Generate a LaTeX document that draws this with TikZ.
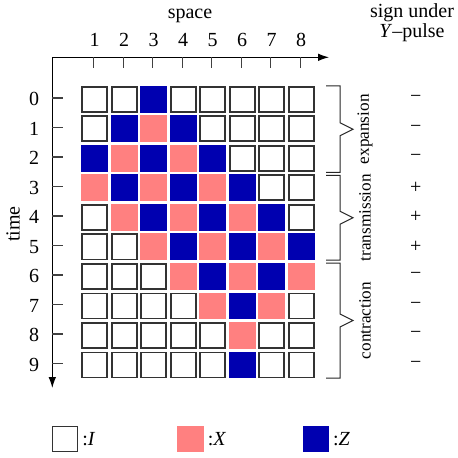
\documentclass[tikz,border=0pt]{standalone}
\usepackage{fontspec}
\setmainfont{Liberation Serif}
\usetikzlibrary{arrows.meta,positioning}
\definecolor{pauliX}{RGB}{255,128,128}
\definecolor{pauliZ}{RGB}{0,0,176}
\tikzset{
	cellI/.style={draw=black!80,line width=0.8pt,fill=white,minimum size=12.5pt,inner sep=0pt},
	cellX/.style={fill=pauliX,minimum size=13.3pt,inner sep=0pt},
	cellZ/.style={fill=pauliZ,minimum size=13.3pt,inner sep=0pt},
	tick/.style={draw=black!75,line width=0.6pt},
	bracket/.style={draw=black!85,line width=0.5pt},
	phase/.style={rotate=90,font=\fontsize{8.6}{10}\selectfont},
}
\newcommand{\phasebrace}[4]{%
	\draw[bracket] (326,#1) -- (340,#1) -- (340,{(#1+#2)/2-6.5}) -- (353,{(#1+#2)/2})
		-- (340,{(#1+#2)/2+6.5}) -- (340,#2) -- (326,#2);
	\node[phase] (#3) at (365,{(#1+#2)/2}) {#4};}

\begin{document}
\begin{tikzpicture}[x=0.5pt,y=-0.5pt,font=\fontsize{10}{10}\selectfont,
		>={Latex[length=5.5pt,width=3.8pt]}]
		\useasboundingbox (0,0) rectangle (458,458);
		%
		\node (space) at (190,15.5) {space};
		\node[rotate=90] (time) at (13,224) {time};
		\node[align=center] (pulse) at (412,22.5) {sign under\\\textit{Y}--pulse};
		%
		\draw[->,line width=0.5pt] (52.3,57.3) -- (329,57.3);
		\draw[->,line width=0.5pt] (52.3,57.3) -- (52.3,388);
		\foreach \c in {1,...,8} {
			\node (col\c) at ({65.2+29.5*\c},40) {\c};
			\draw[tick] ({64.2+29.5*\c},57.3) -- ++(0,10.7);
		}
		\foreach \r in {0,...,9} {
			\node (row\r) at (34,{99.3+29.5*\r}) {\r};
			\draw[tick] (52.3,{98+29.5*\r}) -- ++(10.7,0);
		}
		%
		\foreach \states [count=\r from 0] in {
			{I,I,Z,I,I,I,I,I},{I,Z,X,Z,I,I,I,I},{Z,X,Z,X,Z,I,I,I},
			{X,Z,X,Z,X,Z,I,I},{I,X,Z,X,Z,X,Z,I},{I,I,X,Z,X,Z,X,Z},
			{I,I,I,X,Z,X,Z,X},{I,I,I,I,X,Z,X,I},{I,I,I,I,I,X,I,I},
			{I,I,I,I,I,Z,I,I}} {
			\foreach \s [count=\c] in \states
				\node[cell\s] (c\r-\c) at ({65.2+29.5*\c},{99.3+29.5*\r}) {};
		}
		%
		\phasebrace{86}{172.5}{expansion}{expansion}
		\phasebrace{175.5}{260}{transmission}{transmission}
		\phasebrace{263}{378}{contraction}{contraction}
		\foreach \r/\sg in {0/−,1/−,2/−,3/+,4/+,5/+,6/−,7/−,8/−,9/−}
			\node (sign\r) at (415.7,{99.3+29.5*\r}) {\sg};
		%
		\node[cellI] (legI) at (65,439) {};
		\node[cellX] (legX) at (190.7,439) {};
		\node[cellZ] (legZ) at (316,439) {};
		\node[right=1.8pt of legI,inner sep=0pt] (labI) {:\textit{I}};
		\node[right=1.5pt of legX,inner sep=0pt] (labX) {:\textit{X}};
		\node[right=1.5pt of legZ,inner sep=0pt] (labZ) {:\textit{Z}};
	\end{tikzpicture}
\end{document}
